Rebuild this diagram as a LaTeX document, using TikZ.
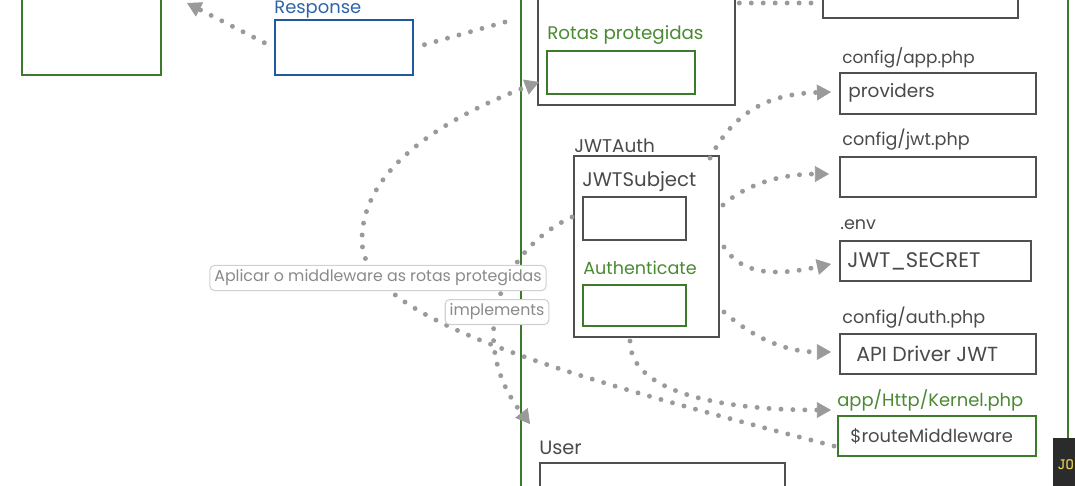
\documentclass[tikz,border=0pt]{standalone}
\usepackage{fontspec}
\setmainfont{Poppins}
\usetikzlibrary{arrows.meta,fit}
\definecolor{gr}{HTML}{3C7A2C}
\definecolor{grtxt}{HTML}{4A8A32}
\definecolor{bl}{HTML}{1F5AA0}
\definecolor{bltxt}{HTML}{2F63A8}
\definecolor{boxgray}{HTML}{505050}
\definecolor{txt}{HTML}{4A4A4A}
\definecolor{dotc}{HTML}{9A9A9A}
\definecolor{lblc}{HTML}{8A8A8A}
\definecolor{lbldraw}{HTML}{D0D0D0}
\definecolor{ovlbg}{HTML}{2B2B2B}
\definecolor{ovltxt}{HTML}{E8D44D}
\newcommand{\fsz}[1]{\fontsize{#1}{#1}\selectfont}
\begin{document}
\begin{tikzpicture}[x=0.02cm,y=-0.02cm,
  box/.style={draw=boxgray, line width=1.5pt, inner sep=0pt},
  gbox/.style={box, draw=gr},
  bbox/.style={box, draw=bl},
  lbl/.style={font=\fsz{10}, text=txt, inner sep=0pt, anchor=west},
  glbl/.style={lbl, text=grtxt},
  conn/.style={draw=dotc, line width=2.8pt, line cap=round, dash pattern=on 0pt off 6.8pt},
  arrowend/.style={-{Triangle[length=8pt,width=9pt,line width=0.4pt]}},
  elabel/.style={draw=lbldraw, line width=0.6pt, rounded corners=2.5pt, fill=white,
    font=\fsz{9}, text=lblc, inner xsep=2.5pt, inner ysep=2.5pt}
]
\clip (0,0) rectangle (1075,485);
\fill[white] (0,0) rectangle (1075,485);

% left boxes
\node[gbox, fit={(22,-20) (161,75)}] (leftbox) {};
\node[lbl, text=bltxt, font=\fsz{10.2}] (resplbl) at (274,10) {Response};
\node[bbox, fit={(275,20) (413,75)}] (respbox) {};

% big container
\node[gbox, fit={(521,-20) (1068,500)}] (container) {};

% rotas protegidas
\node[box, fit={(538,-20) (735,105)}] (rotas) {};
\node[glbl, font=\fsz{10.4}] (rotaslbl) at (547,35) {Rotas protegidas};
\node[gbox, fit={(547,51) (695,94)}] (rotasbox) {};

% top right box
\node[box, fit={(823,-20) (1018,18)}] (topbox) {};

% config files
\node[lbl, font=\fsz{9.6}] (applbl) at (842,58) {config/app.php};
\node[box, fit={(840,73) (1036,114)}] (appbox) {};
\node[lbl, font=\fsz{10.5}] (provtxt) at (848,93) {providers};

\node[lbl] (jwtlbl) at (842,140) {config/jwt.php};
\node[box, fit={(840,157) (1036,197)}] (jwtbox) {};

\node[lbl] (envlbl) at (840,225) {.env};
\node[box, fit={(840,241) (1031,281)}] (envbox) {};
\node[lbl, font=\fsz{12}] (envtxt) at (847,261) {JWT\_SECRET};

\node[lbl] (authlbl) at (842,318) {config/auth.php};
\node[box, fit={(840,334) (1036,374)}] (authbox) {};
\node[lbl, font=\fsz{11.6}] (authtxt) at (856,354) {API Driver JWT};

\node[glbl, font=\fsz{10.2}] (kernlbl) at (837,400) {app/Http/Kernel.php};
\node[gbox, fit={(838,416) (1036,456)}] (kernbox) {};
\node[lbl, font=\fsz{10.2}] (kerntxt) at (850,436) {\$routeMiddleware};

% JWTAuth
\node[lbl, font=\fsz{10.5}] (jwtauthlbl) at (574,146) {JWTAuth};
\node[box, fit={(574,156) (719,337)}] (jwtauth) {};
\node[lbl, font=\fsz{11.2}] (subjlbl) at (582,182) {JWTSubject};
\node[box, fit={(583,197) (686,240)}] (subjbox) {};
\node[glbl] (authnlbl) at (583,268) {Authenticate};
\node[gbox, fit={(583,285) (686,326)}] (authnbox) {};

% User
\node[lbl, font=\fsz{11}] (userlbl) at (539,448) {User};
\node[box, fit={(540,463) (785,500)}] (userbox) {};

% connector end coordinates
\coordinate (c1) at (187,3);
\coordinate (c2) at (505,22);
\coordinate (c3) at (822,3);
\coordinate (rotasin) at (539,82);
\coordinate (kin) at (834,446);
\coordinate (jsub) at (572,217);
\coordinate (uin) at (530,424);
\coordinate (j1) at (710,158);
\coordinate (j2) at (723,205);
\coordinate (j3) at (724,247);
\coordinate (j4) at (724,312);
\coordinate (j5) at (630,341);
\coordinate (t1) at (831,92);
\coordinate (t2) at (829,174);
\coordinate (t3) at (831,264);
\coordinate (t4) at (831,352);
\coordinate (t5) at (831,410);

% connectors
\draw[conn, arrowend, shorten <=6pt] (respbox.west) -- (c1);
\draw[conn, shorten <=6pt] (respbox.east) -- (c2);
\draw[conn] (rotas.east |- c3) ++(3,0) -- (c3);
\draw[conn, arrowend] (kin) .. controls (500,360) and (362,310) .. (362,240)
   .. controls (362,170) and (440,120) .. (rotasin);
\draw[conn, arrowend] (jsub) .. controls (500,250) and (465,340) .. (uin);
\draw[conn, arrowend] (j1) .. controls (735,110) and (770,94) .. (t1);
\draw[conn, arrowend] (j2) .. controls (745,185) and (780,174) .. (t2);
\draw[conn, arrowend] (j3) .. controls (742,275) and (775,276) .. (t3);
\draw[conn, arrowend] (j4) .. controls (752,337) and (785,352) .. (t4);
\draw[conn, arrowend] (j5) .. controls (630,392) and (720,410) .. (t5);

% edge labels
\node[elabel] (aplicar) at (378,278) {Aplicar o middleware as rotas protegidas};
\node[elabel] (impl) at (497,312) {implements};

% video overlay corner
\fill[ovlbg] (1053,438) rectangle (1080,490);
\node[font=\ttfamily\bfseries\fsz{9}, text=ovltxt, anchor=west, inner sep=0pt] (ovl) at (1057,465) {JO};
\end{tikzpicture}
\end{document}
